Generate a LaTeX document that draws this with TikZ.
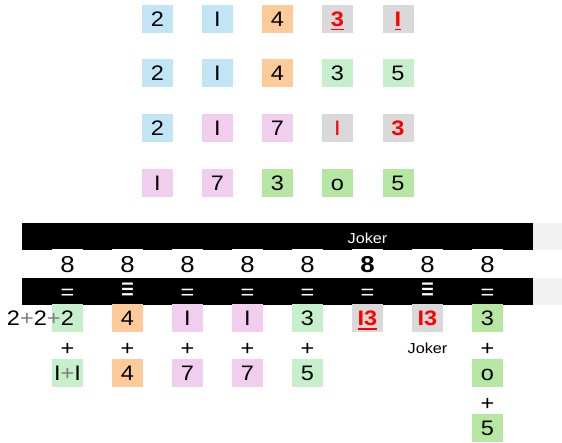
\documentclass[tikz,border=0pt]{standalone}
\usepackage{fontspec}
\setmainfont[FakeStretch=1.12]{Liberation Sans}
\definecolor{cBlue}{HTML}{C2E5F5}
\definecolor{cOrange}{HTML}{FDCB9A}
\definecolor{cGray}{HTML}{D9D9D9}
\definecolor{cLGreen}{HTML}{C6EFCC}
\definecolor{cDGreen}{HTML}{B5E6A2}
\definecolor{cPink}{HTML}{F1CEEE}
\definecolor{cBar}{HTML}{F2F2F2}
\definecolor{cPlus}{HTML}{7F7F7F}
\newcommand{\redul}[1]{\setbox0\hbox{#1}\rlap{\textcolor{red}{\rule[-3.8pt]{\wd0}{1.5pt}}}\box0}
\begin{document}
\begin{tikzpicture}[x=1pt,y=-1pt,
  cell/.style={minimum width=31pt, minimum height=28pt, inner sep=0pt,
    font=\fontsize{21}{21}\selectfont, text height=15pt, text depth=0pt},
  bc/.style={cell, fill=cBlue},
  oc/.style={cell, fill=cOrange},
  gc/.style={cell, fill=cGray, text=red},
  lg/.style={cell, fill=cLGreen},
  dg/.style={cell, fill=cDGreen},
  pc/.style={cell, fill=cPink},
  eight/.style={minimum width=31pt, minimum height=30pt, inner sep=0pt, fill=white,
    font=\fontsize{23}{23}\selectfont, text height=16.5pt, text depth=0pt},
  eq/.style={inner sep=0pt, text=white, font=\fontsize{21}{21}\selectfont},
  trip/.style={inner sep=0pt, text=white, font=\fontsize{18}{18}\selectfont},
  plus/.style={inner sep=0pt, font=\fontsize{21}{21}\selectfont},
  joker/.style={inner sep=0pt, font=\fontsize{14.5}{14.5}\selectfont},
  bar/.style={fill=black},
  barext/.style={fill=cBar}
]
\useasboundingbox (0,0) rectangle (562,443);
% top rows
\node[bc] (a1) at (157.5,19) {2};
\node[bc] (a2) at (217.5,19) {I};
\node[oc] (a3) at (277.5,19) {4};
\node[gc] (a4) at (337.5,19) {\bfseries\redul{3}};
\node[gc] (a5) at (398,19) {\bfseries\redul{I}};

\node[bc] (b1) at (157.5,73.5) {2};
\node[bc] (b2) at (217.5,73.5) {I};
\node[oc] (b3) at (277.5,73.5) {4};
\node[lg] (b4) at (337.5,73.5) {3};
\node[lg] (b5) at (398,73.5) {5};

\node[bc] (c1) at (157.5,128) {2};
\node[pc] (c2) at (217.5,128) {I};
\node[pc] (c3) at (277.5,128) {7};
\node[gc] (c4) at (337.5,128) {I};
\node[gc] (c5) at (398,128) {\bfseries 3};

\node[pc] (d1) at (157.5,183) {I};
\node[pc] (d2) at (217.5,183) {7};
\node[dg] (d3) at (277.5,183) {3};
\node[dg] (d4) at (337.5,183) {o};
\node[dg] (d5) at (398,183) {5};

% bars
\fill[bar] (22,223) rectangle (533,250);
\fill[barext] (533,223) rectangle (562,250);
\node[eq, font=\fontsize{14.5}{14.5}\selectfont] (jk) at (367.5,238) {Joker};

\foreach \i/\t in {1/8,2/8,3/8,4/8,5/8,6/{\bfseries 8},7/8,8/8}{
  \node[eight] (e\i) at ({67.5+60*(\i-1)},264) {\t};
}

\fill[bar] (22,278) rectangle (533,305);
\fill[barext] (533,278) rectangle (562,305);
\foreach \i in {1,3,4,5,6,8}{
  \node[eq] (q\i) at ({67.5+60*(\i-1)},294) {=};
}
\node[trip] (q2) at (127.5,291) {\scalebox{1.1}[1.7]{≡}};
\node[trip] (q7) at (427.5,291) {\scalebox{1.1}[1.7]{≡}};

% bottom
\node[lg] (f1) at (67.5,318.5) {2};
\node[plus, anchor=base east] (pre) at ([xshift=-6.7pt]f1.base) {2{\color{cPlus}+}2{\color{cPlus}+}};
\node[oc] (f2) at (127.5,318.5) {4};
\node[pc] (f3) at (187.5,318.5) {I};
\node[pc] (f4) at (247.5,318.5) {I};
\node[lg] (f5) at (307.5,318.5) {3};
\node[gc] (f6) at (367.5,318.5) {\bfseries\redul{I3}};
\node[gc] (f7) at (427.5,318.5) {\bfseries I3};
\node[dg] (f8) at (487.5,318.5) {3};

\foreach \i in {1,2,3,4,5,8}{
  \node[plus] (p\i) at ({67.5+60*(\i-1)},349) {+};
}
\node[joker] (j2) at (427.5,348) {Joker};

\node[lg] (g1) at (67.5,373) {I{\color{cPlus}+}I};
\node[oc] (g2) at (127.5,373) {4};
\node[pc] (g3) at (187.5,373) {7};
\node[pc] (g4) at (247.5,373) {7};
\node[lg] (g5) at (307.5,373) {5};
\node[dg] (g8) at (487.5,373) {o};

\node[plus] (p9) at (487.5,404) {+};
\node[dg] (h8) at (487.5,428) {5};
\end{tikzpicture}
\end{document}
